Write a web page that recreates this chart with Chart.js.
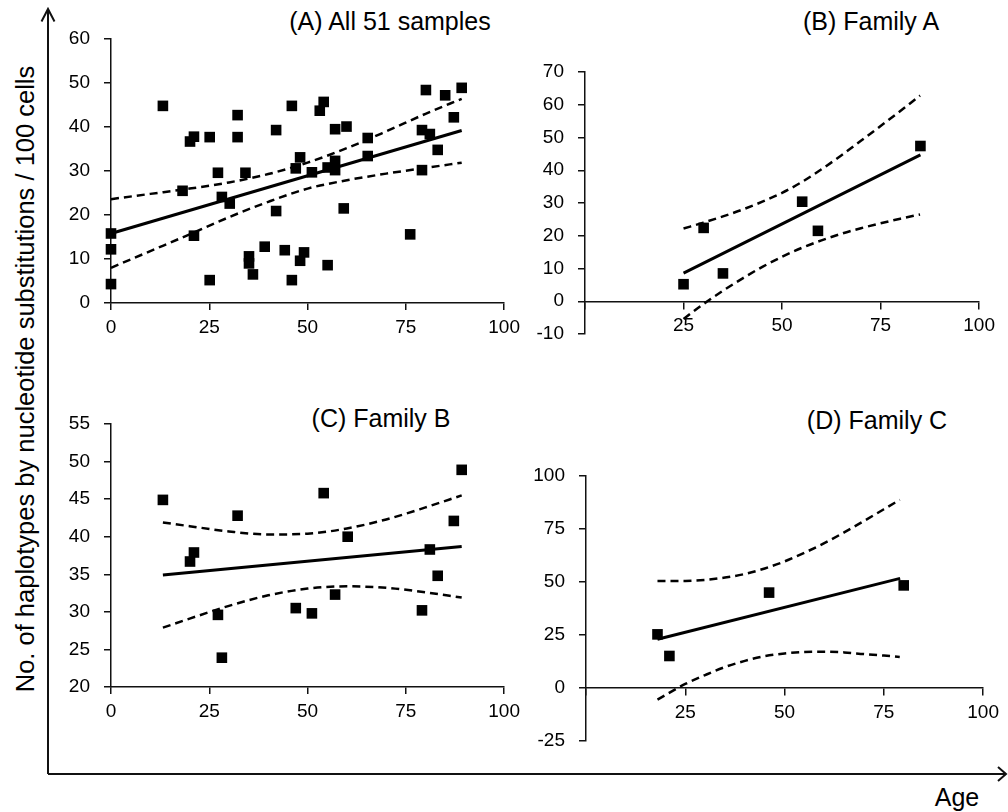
<!DOCTYPE html>
<html>
<head>
<meta charset="utf-8">
<script src="https://cdn.jsdelivr.net/npm/chart.js@4"></script>
<style>
body { margin: 0; background: #fff; }
#wrap { position: relative; width: 1008px; height: 812px; font-family: "Liberation Sans", Arial, sans-serif; color: #000; }
#wrap canvas { position: absolute; }
.lbl { position: absolute; white-space: nowrap; font-size: 25px; transform: translate(-50%, -50%); }
#ytitle { font-size: 25.5px; transform: translate(-50%, -50%) rotate(-90deg); }
</style>
</head>
<body>
<div id="wrap">
  <svg width="1008" height="812" style="position:absolute;left:0;top:0">
    <path d="M48 774 V9 M41.5 21.5 L48 9 L54.5 21.5" stroke="#111" stroke-width="2" fill="none"/>
    <path d="M48 774 H1006 M998 767 L1006 774 L998 781" stroke="#111" stroke-width="2" fill="none"/>
  </svg>
  <div class="lbl" id="ytitle" style="left:25px;top:379px">No. of haplotypes by nucleotide substitutions / 100 cells</div>
  <div class="lbl" style="left:957px;top:797px">Age</div>
  <div class="lbl" style="left:390px;top:21px">(A) All 51 samples</div>
  <div class="lbl" style="left:871px;top:21px">(B) Family A</div>
  <div class="lbl" style="left:381px;top:418px">(C) Family B</div>
  <div class="lbl" style="left:877px;top:420px">(D) Family C</div>
  <canvas id="chartA" width="470" height="320" style="left:56px;top:13px"></canvas>
  <canvas id="chartB" width="471" height="314" style="left:530px;top:46px"></canvas>
  <canvas id="chartC" width="470" height="319" style="left:56px;top:398px"></canvas>
  <canvas id="chartD" width="474" height="317" style="left:531px;top:450px"></canvas>
</div>
<script>
// (A) all samples
var aAge = [0, 0, 0, 13.2, 18.2, 20.1, 21.1, 21.1, 25.1, 25.1, 27.2, 28.2, 30.2, 32.2, 32.2, 34.2, 35.1, 35.1, 36.1, 39.1,
  42.0, 42.0, 44.2, 46.0, 46.0, 47.0, 48.1, 48.1, 49.1, 51.1, 53.1, 54.1, 55.1, 55.1, 57.0, 57.0, 57.0, 59.2, 59.9, 65.3,
  65.3, 76.1, 79.1, 79.1, 80.1, 81.1, 83.1, 85.0, 87.2, 89.2];
var aHap = [4.3, 12.2, 15.8, 44.8, 25.5, 36.7, 37.8, 15.3, 37.7, 5.2, 29.6, 24.1, 22.6, 42.7, 37.7, 29.6, 10.6, 9.0, 6.5, 12.8,
  39.3, 20.9, 12.0, 44.8, 5.2, 30.6, 33.1, 9.6, 11.5, 29.7, 43.7, 45.7, 30.8, 8.6, 39.5, 32.3, 30.2, 21.5, 40.1, 37.5,
  33.4, 15.6, 39.3, 30.2, 48.4, 38.4, 34.8, 47.2, 42.2, 48.9];
var aFitAge = [0, 89.2];
var aFit = [15.8, 39.2];
var aBandAge = [0, 10, 20, 30, 40, 50, 60, 70, 80, 89.2];
var aUpper = [23.6, 24.8, 26.0, 27.4, 29.3, 31.9, 35.2, 39.0, 43.0, 46.4];
var aLower = [8.0, 11.8, 15.6, 19.5, 23.0, 26.0, 27.9, 29.4, 30.7, 31.9];

// (B) family A
var bAge = [25.0, 30.1, 35.0, 55.1, 59.1, 85.1];
var bHap = [5.2, 22.4, 8.5, 30.4, 21.5, 47.4];
var bFitAge = [25, 85.1];
var bFit = [8.6, 44.7];
var bBandAge = [25, 30, 35, 40, 45, 50, 55, 60, 65, 70, 75, 80, 85];
var bUpper = [22.2, 24.0, 25.9, 28.0, 30.4, 33.1, 36.4, 40.3, 44.5, 49.0, 53.5, 58.1, 62.8];
var bLower = [-5.4, -0.9, 3.2, 7.0, 10.5, 13.6, 16.3, 18.6, 20.6, 22.3, 23.8, 25.2, 26.5];

// (C) family B
var cAge = [13.2, 20.1, 21.1, 27.2, 28.2, 32.2, 47.0, 51.1, 54.1, 57.0, 60.2, 79.1, 81.1, 83.1, 87.2, 89.2];
var cHap = [44.9, 36.7, 37.9, 29.6, 23.9, 42.8, 30.5, 29.8, 45.8, 32.3, 40.0, 30.2, 38.3, 34.8, 42.1, 48.9];
var cFitAge = [13.2, 89.2];
var cFit = [34.9, 38.7];
var cBandAge = [13.2, 20, 30, 40, 50, 60, 70, 80, 89.2];
var cUpper = [41.9, 41.4, 40.7, 40.3, 40.4, 41.1, 42.3, 43.9, 45.5];
var cLower = [27.9, 29.1, 30.8, 32.2, 33.1, 33.4, 33.2, 32.6, 31.9];

// (D) family C
var dAge = [18.0, 21.0, 46.1, 80.0];
var dHap = [25.3, 15.1, 45.0, 48.4];
var dFitAge = [18, 79.1];
var dFit = [23.0, 51.7];
var dBandAge = [18, 25, 30, 35, 40, 45, 50, 55, 60, 65, 70, 75, 79];
var dUpper = [50.5, 50.5, 51.0, 52.1, 53.8, 56.4, 59.7, 63.8, 68.3, 73.4, 78.8, 84.3, 88.8];
var dLower = [-5.5, 1.9, 6.1, 9.9, 12.8, 15.0, 16.3, 17.0, 17.1, 16.8, 16.0, 15.3, 14.6];

Chart.defaults.font.family = '"Liberation Sans", Arial, sans-serif';
Chart.defaults.font.size = 19;
Chart.defaults.color = '#000';

function pts(xs, ys) {
  return xs.map(function (x, i) { return { x: x, y: ys[i] }; });
}

function dashed(xs, ys) {
  return {
    type: 'line', data: pts(xs, ys), borderColor: '#000', borderWidth: 2.5, borderDash: [8, 5],
    pointRadius: 0, cubicInterpolationMode: 'monotone', fill: false, clip: false
  };
}

function panel(id, p) {
  new Chart(document.getElementById(id), {
    type: 'scatter',
    data: {
      datasets: [
        { data: pts(p.age, p.hap), pointStyle: 'rect', pointRadius: 7.5, backgroundColor: '#000', borderWidth: 0, clip: false },
        { type: 'line', data: pts(p.fitAge, p.fit), borderColor: '#000', borderWidth: 3, pointRadius: 0, fill: false, clip: false },
        dashed(p.bandAge, p.upper),
        dashed(p.bandAge, p.lower)
      ]
    },
    options: {
      responsive: false,
      animation: false,
      devicePixelRatio: 1,
      // tick padding (14) is added to the label half-height, so keep 26 at top/bottom
      layout: { padding: { top: 26, right: 20, bottom: p.crossZero ? 26 : 0, left: 0 } },
      plugins: { legend: { display: false }, tooltip: { enabled: false } },
      scales: {
        x: {
          type: 'linear', min: 0, max: 100,
          position: p.crossZero ? { y: 0 } : 'bottom',
          ticks: {
            stepSize: 25, autoSkip: false, maxRotation: 0, padding: 6,
            callback: function (v) { return (p.crossZero && v === 0) ? '' : v; }
          },
          grid: { drawOnChartArea: false, color: '#111', lineWidth: 1.5, tickLength: 7 },
          border: { color: '#111', width: 1.5 },
          afterFit: function (s) { s.height = 30; }
        },
        y: {
          min: p.yMin, max: p.yMax,
          ticks: { stepSize: p.yStep, autoSkip: false, padding: 14 },
          grid: { drawOnChartArea: false, color: '#111', lineWidth: 1.5, tickLength: 7 },
          border: { color: '#111', width: 1.5 },
          afterFit: function (s) { s.width = 55; }
        }
      }
    }
  });
}

panel('chartA', { age: aAge, hap: aHap, fitAge: aFitAge, fit: aFit, bandAge: aBandAge, upper: aUpper, lower: aLower, yMin: 0, yMax: 60, yStep: 10 });
panel('chartB', { age: bAge, hap: bHap, fitAge: bFitAge, fit: bFit, bandAge: bBandAge, upper: bUpper, lower: bLower, yMin: -10, yMax: 70, yStep: 10, crossZero: true });
panel('chartC', { age: cAge, hap: cHap, fitAge: cFitAge, fit: cFit, bandAge: cBandAge, upper: cUpper, lower: cLower, yMin: 20, yMax: 55, yStep: 5 });
panel('chartD', { age: dAge, hap: dHap, fitAge: dFitAge, fit: dFit, bandAge: dBandAge, upper: dUpper, lower: dLower, yMin: -25, yMax: 100, yStep: 25, crossZero: true });
</script>
</body>
</html>
